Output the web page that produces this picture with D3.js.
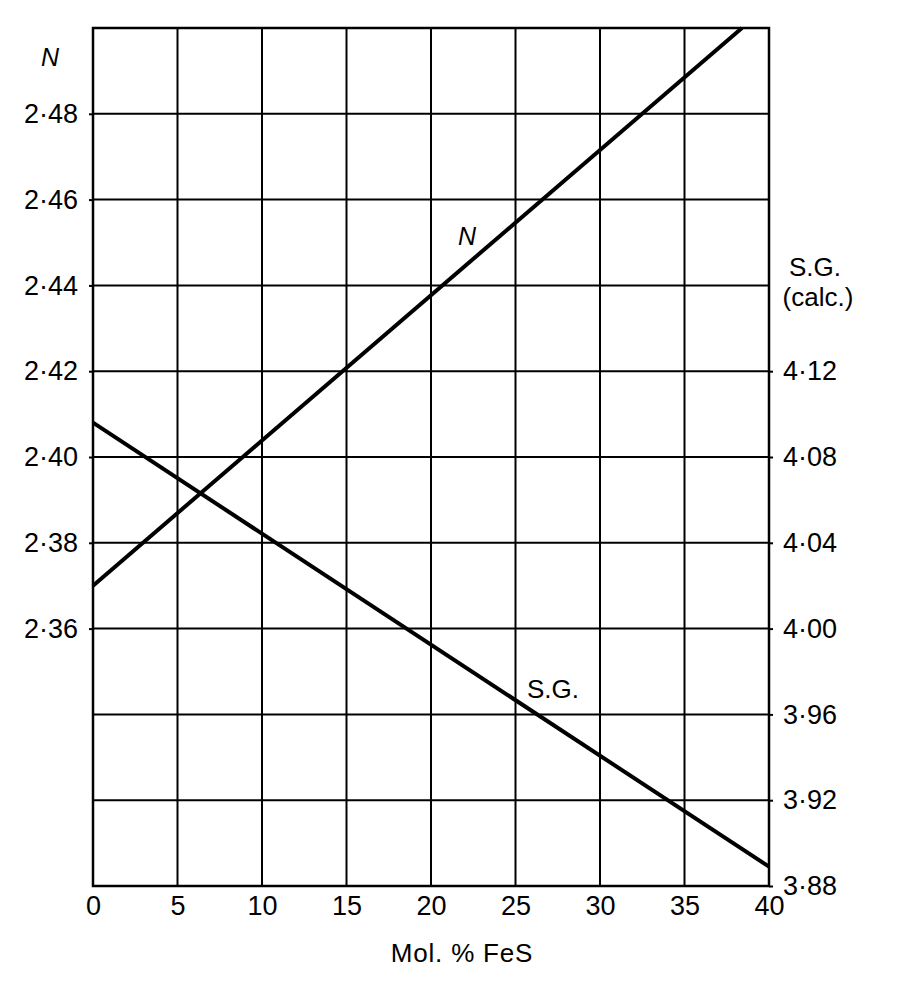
<!DOCTYPE html>
<html>
<head>
<meta charset="utf-8">
<script src="https://cdn.jsdelivr.net/npm/d3@7"></script>
<style>
html,body{margin:0;padding:0;background:#fff;}
svg text{font-family:"Liberation Sans",Arial,Helvetica,sans-serif;fill:#000;}
</style>
</head>
<body>
<svg id="chart" width="904" height="992"></svg>
<script>
// Data
const xTicks = [0, 5, 10, 15, 20, 25, 30, 35, 40];
const nGrid = [2.30, 2.32, 2.34, 2.36, 2.38, 2.40, 2.42, 2.44, 2.46, 2.48, 2.50];
const nTickLabels = [2.36, 2.38, 2.40, 2.42, 2.44, 2.46, 2.48];
const sgTickLabels = [3.88, 3.92, 3.96, 4.00, 4.04, 4.08, 4.12];
const nMol = [0, 38.4];
const nValues = [2.370, 2.500];
const sgMol = [0, 40];
const sgValues = [4.096, 3.889];

(function () {
const svg = d3.select("#chart");
const pL = 93, pR = 769, pT = 28, pB = 886;

const x = d3.scaleLinear().domain([0, 40]).range([pL, pR]);
const yN = d3.scaleLinear().domain([2.30, 2.50]).range([pB, pT]);
const ySG = d3.scaleLinear().domain([3.88, 4.28]).range([pB, pT]);
const fmt = v => d3.format(".2f")(v).replace(".", "\u00B7");

// grid
const g = svg.append("g");
g.selectAll("line.v").data(xTicks).join("line").attr("class", "v")
  .attr("x1", d => x(d)).attr("x2", d => x(d))
  .attr("y1", pT).attr("y2", pB)
  .attr("stroke", "#000").attr("stroke-width", 2);
g.selectAll("line.h").data(nGrid).join("line").attr("class", "h")
  .attr("x1", pL).attr("x2", pR)
  .attr("y1", d => yN(d)).attr("y2", d => yN(d))
  .attr("stroke", "#000").attr("stroke-width", 2);
// frame
g.append("rect").attr("x", pL).attr("y", pT)
  .attr("width", pR - pL).attr("height", pB - pT)
  .attr("fill", "none").attr("stroke", "#000").attr("stroke-width", 2.5);

// axes (labels)
const ax = svg.append("g").attr("transform", `translate(0,${pB})`)
  .call(d3.axisBottom(x).tickValues(xTicks).tickSize(0).tickPadding(10).tickFormat(d3.format("d")));
const ayL = svg.append("g").attr("transform", `translate(${pL},0)`)
  .call(d3.axisLeft(yN).tickValues(nTickLabels).tickSize(4).tickPadding(11).tickFormat(fmt));
const ayR = svg.append("g").attr("transform", `translate(${pR},0)`)
  .call(d3.axisRight(ySG).tickValues(sgTickLabels).tickSize(4).tickPadding(10).tickFormat(fmt));
[ax, ayL, ayR].forEach(a => {
  a.attr("font-family", null).attr("font-size", null);
  a.select(".domain").remove();
  a.selectAll(".tick line").attr("stroke", "#000").attr("stroke-width", 2);
  a.selectAll(".tick text").attr("font-size", 27).attr("fill", "#000");
});
ax.selectAll(".tick text").attr("dy", "0.71em");

// data lines
const line = (xs, ys, yScale) => d3.line().x((d, i) => x(xs[i])).y((d, i) => yScale(ys[i]))(xs);
svg.append("path").attr("d", line(nMol, nValues, yN))
  .attr("fill", "none").attr("stroke", "#000").attr("stroke-width", 4);
svg.append("path").attr("d", line(sgMol, sgValues, ySG))
  .attr("fill", "none").attr("stroke", "#000").attr("stroke-width", 4);

// labels
svg.append("text").attr("x", 50).attr("y", 66).attr("text-anchor", "middle")
  .attr("font-size", 25).attr("font-style", "italic").text("N");
svg.append("text").attr("x", 467).attr("y", 245).attr("text-anchor", "middle")
  .attr("font-size", 25).attr("font-style", "italic").text("N");
svg.append("text").attr("x", 527).attr("y", 698)
  .attr("font-size", 26).text("S.G.");
svg.append("text").attr("x", 815).attr("y", 276).attr("text-anchor", "middle")
  .attr("font-size", 26).text("S.G.");
svg.append("text").attr("x", 818).attr("y", 306).attr("text-anchor", "middle")
  .attr("font-size", 26).text("(calc.)");
svg.append("text").attr("x", 462).attr("y", 962).attr("text-anchor", "middle")
  .attr("font-size", 26).attr("letter-spacing", 0.8).text("Mol. % FeS");
})();
</script>
</body>
</html>
